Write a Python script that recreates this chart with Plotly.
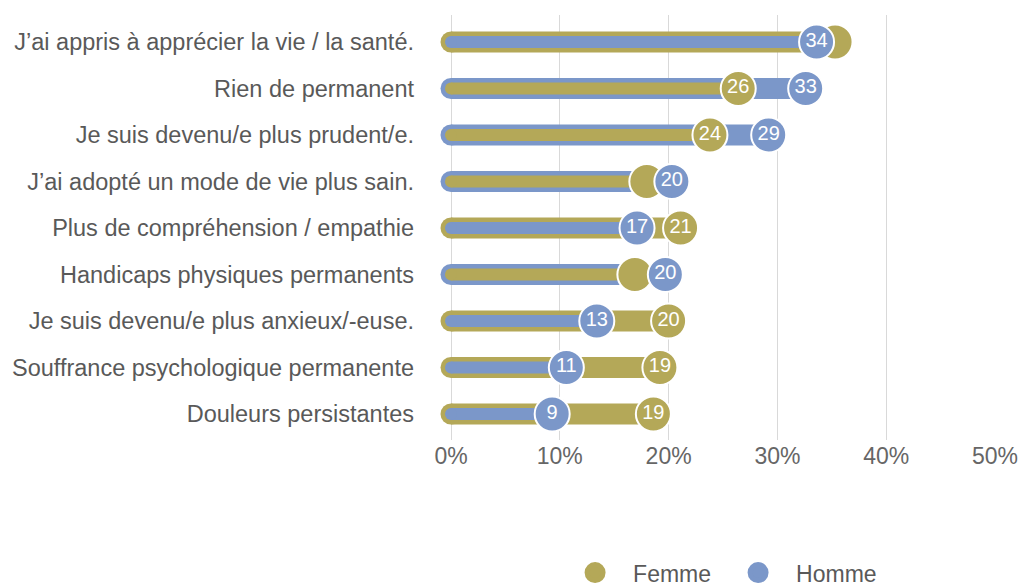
import plotly.graph_objects as go

categories = [
    "J’ai appris à apprécier la vie / la santé.",
    "Rien de permanent",
    "Je suis devenu/e plus prudent/e.",
    "J’ai adopté un mode de vie plus sain.",
    "Plus de compréhension / empathie",
    "Handicaps physiques permanents",
    "Je suis devenu/e plus anxieux/-euse.",
    "Souffrance psychologique permanente",
    "Douleurs persistantes",
]
femme = [35.3, 26.4, 23.8, 18.0, 21.1, 16.9, 20.0, 19.2, 18.6]
homme = [33.6, 32.6, 29.2, 20.3, 17.1, 19.7, 13.4, 10.6, 9.3]
femme_labels = ["", "26", "24", "", "21", "", "20", "19", "19"]
homme_labels = ["34", "33", "29", "20", "17", "20", "13", "11", "9"]
x_ticks = [0, 10, 20, 30, 40, 50]
x_ticktext = ["0%", "10%", "20%", "30%", "40%", "50%"]

C_F = "#b4a858"
C_H = "#7b97c9"
FONT = "Helvetica Neue, Helvetica, Liberation Sans, Arial, sans-serif"
TXT = "#595959"

fig = go.Figure()


def seg(values, cats, mask):
    xs, ys = [], []
    for v, c, m in zip(values, cats, mask):
        if m:
            xs += [0, v, None]
            ys += [c, c, None]
    return xs, ys


f_long = [f >= h for f, h in zip(femme, homme)]
h_long = [not m for m in f_long]

# long bars (thick)
for vals, mask, col in [(femme, f_long, C_F), (homme, h_long, C_H)]:
    xs, ys = seg(vals, categories, mask)
    fig.add_trace(go.Scatter(x=xs, y=ys, mode="lines+markers",
                             line=dict(color=col, width=21),
                             marker=dict(color=col, size=21),
                             hoverinfo="skip", showlegend=False, cliponaxis=False))
# short bars (thin)
for vals, mask, col in [(femme, h_long, C_F), (homme, f_long, C_H)]:
    xs, ys = seg(vals, categories, mask)
    fig.add_trace(go.Scatter(x=xs, y=ys, mode="lines+markers",
                             line=dict(color=col, width=12),
                             marker=dict(color=col, size=12),
                             hoverinfo="skip", showlegend=False, cliponaxis=False))

# end circles
for vals, labels, col in [(femme, femme_labels, C_F), (homme, homme_labels, C_H)]:
    fig.add_trace(go.Scatter(x=vals, y=categories, mode="markers+text",
                             text=labels, textposition="middle center",
                             textfont=dict(family=FONT, size=20, color="white"),
                             marker=dict(color=col, size=35,
                                         line=dict(color="white", width=2)),
                             showlegend=False, cliponaxis=False))

# legend entries
for name, col in [("Femme", C_F), ("Homme", C_H)]:
    fig.add_trace(go.Scatter(x=[None], y=[None], mode="markers", name=name,
                             marker=dict(color=col, size=16,
                                         line=dict(color=col, width=5))))

fig.update_layout(
    width=1019, height=587,
    margin=dict(l=451, r=24, t=15, b=147, autoexpand=False),
    paper_bgcolor="white", plot_bgcolor="white",
    font=dict(family=FONT, color=TXT, size=23),
    xaxis=dict(range=[0, 50], tickvals=x_ticks, ticktext=x_ticktext,
               showgrid=True, gridcolor="#d9d9d9", gridwidth=1,
               zeroline=True, zerolinecolor="#d9d9d9", zerolinewidth=1,
               showline=False, ticks="", automargin=False,
               tickfont=dict(family=FONT, size=23, color="#666666")),
    yaxis=dict(type="category", categoryorder="array", categoryarray=categories,
               range=[8.56, -0.58], showgrid=False, zeroline=False,
               showline=False, ticks="", ticklabelstandoff=36, automargin=False,
               tickfont=dict(family=FONT, size=23.5, color=TXT)),
    legend=dict(orientation="h", x=0.195, xanchor="left", y=-0.312, yanchor="middle",
                font=dict(family=FONT, size=23, color=TXT),
                itemsizing="trace", itemwidth=66, traceorder="normal",
                entrywidth=82),
    showlegend=True,
)

fig.write_html(
    "out.html",
    config={"displayModeBar": False},
    post_script="document.body.style.margin='0px';"
                "document.body.style.overflow='hidden';"
                "document.documentElement.style.overflow='hidden';",
)
